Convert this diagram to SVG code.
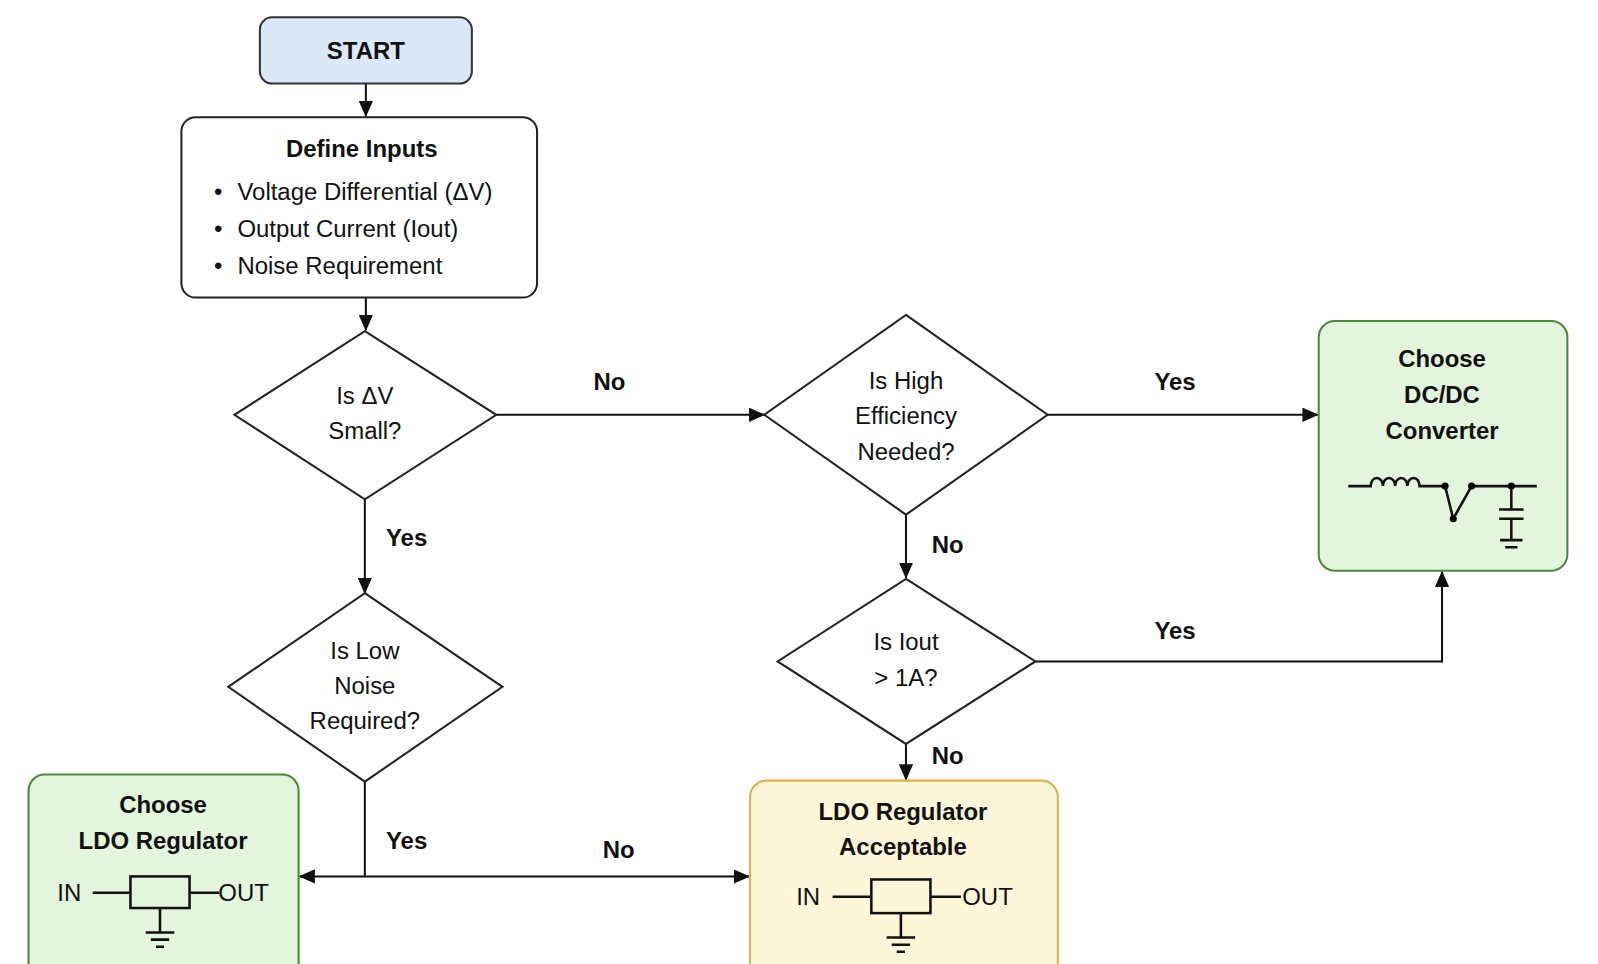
<svg xmlns="http://www.w3.org/2000/svg" width="1598" height="964" viewBox="0 0 1598 964">
<defs>
<marker id="ah" markerWidth="16" markerHeight="14" refX="15" refY="7" orient="auto" markerUnits="userSpaceOnUse"><path d="M0,0 L16,7 L0,14 z" fill="#111"/></marker>
<style>
text{font-family:"Liberation Sans",Arial,sans-serif;font-size:23.5px;fill:#111;text-anchor:middle}
.b{font-weight:bold}
.l{text-anchor:start}
.n{fill:#fff;stroke:#222;stroke-width:2}
.g{fill:#e3f5dc;stroke:#4a8a3a;stroke-width:2}
.y{fill:#fdf6d8;stroke:#e0b04a;stroke-width:2}
.w{fill:none;stroke:#111;stroke-width:2}
.c{fill:none;stroke:#111;stroke-width:2.5}
</style>
</defs>
<rect width="1598" height="964" fill="#fff"/>
<g transform="scale(1.0191)">
<g id="connectors" class="w">
<line x1="359" y1="82" x2="359" y2="114" marker-end="url(#ah)"/>
<line x1="359" y1="292" x2="359" y2="324" marker-end="url(#ah)"/>
<line x1="487" y1="407" x2="750" y2="407" marker-end="url(#ah)"/>
<line x1="1028" y1="407" x2="1293" y2="407" marker-end="url(#ah)"/>
<line x1="889" y1="505" x2="889" y2="567" marker-end="url(#ah)"/>
<polyline points="1016,649 1415,649 1415,561" marker-end="url(#ah)"/>
<line x1="889" y1="730" x2="889" y2="765" marker-end="url(#ah)"/>
<line x1="358" y1="490" x2="358" y2="582" marker-end="url(#ah)"/>
<line x1="358" y1="767" x2="358" y2="860"/>
<line x1="358" y1="860" x2="294" y2="860" marker-end="url(#ah)"/>
<line x1="358" y1="860" x2="735" y2="860" marker-end="url(#ah)"/>
</g>
<g id="labels" class="b">
<text x="598" y="383">No</text>
<text x="1153" y="383">Yes</text>
<text x="930" y="543">No</text>
<text x="1153" y="627">Yes</text>
<text x="930" y="750">No</text>
<text x="399" y="536">Yes</text>
<text x="399" y="833">Yes</text>
<text x="607" y="842">No</text>
</g>
<g id="start">
<rect x="255" y="17" width="208" height="65" rx="12" fill="#dbe8f8" stroke="#333" stroke-width="2"/>
<text x="359" y="58" class="b">START</text>
</g>
<g id="define">
<rect class="n" x="178" y="115" width="349" height="177" rx="14"/>
<text x="355" y="154" class="b">Define Inputs</text>
<text x="210" y="196" class="l">•</text><text x="233" y="196" class="l">Voltage Differential (ΔV)</text>
<text x="210" y="233" class="l">•</text><text x="233" y="233" class="l">Output Current (Iout)</text>
<text x="210" y="269" class="l">•</text><text x="233" y="269" class="l">Noise Requirement</text>
</g>
<g id="d1">
<polygon class="n" points="358,325 487,407 358,490 230,407"/>
<text x="358" y="396">Is ΔV</text><text x="358" y="431">Small?</text>
</g>
<g id="d2">
<polygon class="n" points="889,309 1028,407 889,505 750,407"/>
<text x="889" y="382">Is High</text><text x="889" y="416">Efficiency</text><text x="889" y="451">Needed?</text>
</g>
<g id="d3">
<polygon class="n" points="889,568 1016,649 889,730 763,649"/>
<text x="889" y="638">Is Iout</text><text x="889" y="673">&gt; 1A?</text>
</g>
<g id="d4">
<polygon class="n" points="358,582 493,674 358,767 224,674"/>
<text x="358" y="647">Is Low</text><text x="358" y="681">Noise</text><text x="358" y="715">Required?</text>
</g>
<g id="dcdc">
<rect class="g" x="1294" y="315" width="244" height="245" rx="16"/>
<text x="1415" y="360" class="b">Choose</text><text x="1415" y="395" class="b">DC/DC</text><text x="1415" y="431" class="b">Converter</text>
<path class="c" d="M1323,477 H1345 a6,8 0 0 1 12,0 a6,8 0 0 1 12,0 a6,8 0 0 1 12,0 a6,8 0 0 1 12,0 H1418 L1426,509 L1444,477 H1508 M1483,477 V500 M1471,500 H1495 M1471,509 H1495 M1483,509 V530 M1472,530 H1494 M1477,537 H1489"/>
<circle cx="1418" cy="477" r="3.5"/><circle cx="1426" cy="509" r="3.5"/><circle cx="1444" cy="477" r="3.5"/><circle cx="1483" cy="477" r="3.5"/>
</g>
<g id="ldo-ok">
<rect class="y" x="736" y="766" width="302" height="200" rx="16"/>
<text x="886" y="805" class="b">LDO Regulator</text><text x="886" y="839" class="b">Acceptable</text>
<text x="793" y="888">IN</text><text x="969" y="888">OUT</text>
<rect class="c" x="855" y="863" width="58" height="33"/>
<path class="c" d="M817,880 H855 M913,880 H943 M884,896 V920 M870,920 H898 M875,927 H893 M880,934 H888"/>
</g>
<g id="ldo-choose">
<rect class="g" x="28" y="760" width="265" height="206" rx="16"/>
<text x="160" y="798" class="b">Choose</text><text x="160" y="833" class="b">LDO Regulator</text>
<text x="68" y="884">IN</text><text x="239" y="884">OUT</text>
<rect class="c" x="128" y="860" width="58" height="31"/>
<path class="c" d="M91,876 H128 M186,876 H215 M157,891 V915 M143,915 H171 M148,922 H166 M153,929 H161"/>
</g>
</g>
</svg>
